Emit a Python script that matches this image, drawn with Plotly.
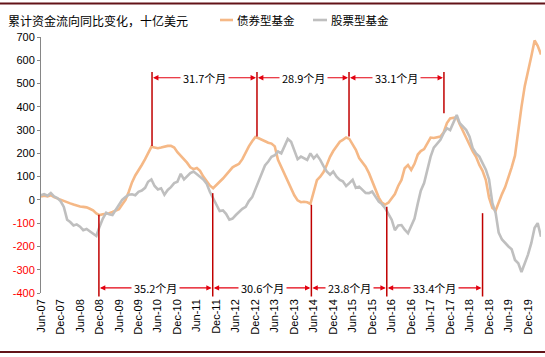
import pandas as pd
import plotly.graph_objects as go

START = "2007-06-01"
X_END = "2020-04-01"
Y_MIN, Y_MAX = -400, 700

# 债券型基金 (monthly reading, 十亿美元)
bond = [15, 18, 15, 20, 12, 6, 0, -6, -10, -15, -20, -25, -28, -30, -32, -38, -45, -58, -65, -62,
        -60, -57, -52, -47, -40, -20, 0, 35, 75, 105, 125, 150, 175, 200, 228, 225, 222, 225, 230, 232,
        232, 225, 205, 190, 175, 160, 140, 132, 137, 125, 100, 80, 62, 50, 62, 78, 92, 108, 128, 140,
        148, 155, 175, 205, 230, 252, 270, 265, 258, 252, 246, 242, 230, 172, 140, 115, 82, 50, 20, -2,
        -10, -8, -10, -17, 40, 85, 100, 120, 150, 185, 210, 232, 250, 258, 268, 262, 240, 215, 180, 160,
        143, 115, 80, 45, 10, -12, -20, -12, 5, 25, 60, 86, 136, 150, 129, 155, 195, 210, 218, 240,
        268, 266, 268, 272, 290, 330, 350, 353, 355, 325, 295, 265, 235, 208, 185, 150, 125, 85, 10, -35,
        -45, -10, 25, 55, 95, 140, 190, 300, 400, 490, 560, 616, 685, 662, 625]

# 股票型基金
equity = [20, 25, 18, 30, 15, 8, -5, -30, -85, -95, -110, -105, -115, -130, -125, -135, -142, -155, -115, -80,
          -55, -62, -65, -45, -22, 0, 12, 22, 24, 20, 35, 40, 52, 78, 88, 60, 45, 50, 22, 43,
          55, 72, 78, 112, 88, 100, 115, 122, 112, 100, 88, 70, 35, 5, -25, -48, -45, -60, -85, -80,
          -65, -52, -38, -30, -5, 12, 45, 85, 120, 148, 165, 185, 192, 208, 200, 232, 262, 250, 215, 175,
          186, 180, 172, 200, 178, 193, 172, 145, 122, 108, 122, 100, 86, 80, 60, 72, 86, 52, 57, 43,
          30, 29, 36, 14, -7, -18, -35, -60, -85, -130, -110, -108, -128, -143, -112, -80, -15, 40, 72, 129,
          186, 225, 244, 258, 287, 308, 300, 330, 365, 330, 315, 300, 272, 222, 200, 186, 158, 130, 88, -14,
          -57, -140, -170, -186, -200, -212, -258, -272, -310, -272, -235, -186, -120, -100, -158]

series_names = ["债券型基金", "股票型基金"]
series_colors = ["#F5B886", "#BFBFBF"]

# peaks (top) and troughs (bottom) marked with red lines
peak_dates = ["2010-04-07", "2012-12-16", "2015-04-28", "2017-10-04"]
peak_values = [232, 272, 272, 372]
peak_labels = ["31.7个月", "28.9个月", "33.1个月"]

trough_dates = ["2008-11-25", "2011-10-28", "2014-05-10", "2016-04-16", "2018-10-01"]
trough_values = [-64, 29, -21, -29, -57]
trough_labels = ["35.2个月", "30.6个月", "23.8个月", "33.4个月"]

TOP_LINE_END = 550
TOP_ARROW_Y = 525
BOTTOM_ARROW_Y = -378

y_ticks = list(range(Y_MIN, Y_MAX + 1, 100))
y_ticktext = [f"<span style='color:#FF0000'>{v}</span>" if v < 0 else str(v) for v in y_ticks]

dates = pd.date_range(START, periods=len(bond), freq="MS")

# layout geometry (pixels)
W, H = 545, 357
ML, MR, MT, MB = 41, 4, 37, 64
PW, PH = W - ML - MR, H - MT - MB


def px_x(px):
    return (px - ML) / PW


def px_y(py):
    return (H - MB - py) / PH


def val_paper(v):
    return (v - Y_MIN) / (Y_MAX - Y_MIN)


FONT = "Liberation Sans, Arial, Noto Sans CJK SC"
CJK = "Noto Sans CJK SC, Liberation Sans"
RED_LINE = "#C00000"
RED_ARROW = "#E3000F"

fig = go.Figure()
for vals, name, col in zip([bond, equity], series_names, series_colors):
    fig.add_trace(go.Scatter(x=dates, y=vals, mode="lines", name=name,
                             line=dict(color=col, width=2.6), showlegend=False))

shapes = []
annotations = []

# vertical red lines
for d, v in zip(peak_dates, peak_values):
    shapes.append(dict(type="line", xref="x", yref="y", x0=d, x1=d, y0=v, y1=TOP_LINE_END,
                       line=dict(color=RED_LINE, width=1.5)))
for d, v in zip(trough_dates, trough_values):
    shapes.append(dict(type="line", xref="x", yref="paper", x0=d, x1=d, y0=val_paper(v), y1=px_y(296.5),
                       line=dict(color=RED_LINE, width=1.5)))


def add_interval(d0, d1, yv, label):
    t0, t1 = pd.Timestamp(d0), pd.Timestamp(d1)
    mid = t0 + (t1 - t0) / 2
    for head in (t0, t1):
        annotations.append(dict(x=head, y=yv, xref="x", yref="y", ax=mid, ay=yv, axref="x", ayref="y",
                                text="", showarrow=True, arrowhead=2, arrowsize=0.9, arrowwidth=1.2,
                                arrowcolor=RED_ARROW, standoff=1))
    annotations.append(dict(x=mid, y=yv, xref="x", yref="y", text=label, showarrow=False,
                            bgcolor="white", borderpad=2, font=dict(family=CJK, size=11, color="#000000")))


for i, lab in enumerate(peak_labels):
    add_interval(peak_dates[i], peak_dates[i + 1], TOP_ARROW_Y, lab)
for i, lab in enumerate(trough_labels):
    add_interval(trough_dates[i], trough_dates[i + 1], BOTTOM_ARROW_Y, lab)

# title
annotations.append(dict(x=px_x(6), y=px_y(20), xref="paper", yref="paper", xanchor="left", yanchor="middle",
                        text="累计资金流向同比变化，十亿美元", showarrow=False,
                        font=dict(family=CJK, size=12, color="#000000")))
# custom legend
leg = [(220, 233, 235), (313, 327, 329)]
for (x0, x1, xt), name, col in zip(leg, series_names, series_colors):
    shapes.append(dict(type="line", xref="paper", yref="paper", x0=px_x(x0), x1=px_x(x1),
                       y0=px_y(20), y1=px_y(20), line=dict(color=col, width=2.6)))
    annotations.append(dict(x=px_x(xt), y=px_y(20), xref="paper", yref="paper", xanchor="left",
                            yanchor="middle", text=name, showarrow=False,
                            font=dict(family=CJK, size=11.5, color="#000000")))

# frame rules (dark red) top and bottom
for py in (3.5, 352):
    shapes.append(dict(type="line", xref="paper", yref="paper", x0=px_x(0), x1=px_x(W),
                       y0=px_y(py), y1=px_y(py), line=dict(color="#631318", width=2)))

fig.update_layout(
    width=W, height=H,
    margin=dict(l=ML, r=MR, t=MT, b=MB),
    paper_bgcolor="white", plot_bgcolor="white",
    showlegend=False,
    shapes=shapes, annotations=annotations,
    xaxis=dict(type="date", range=[START, X_END], tickmode="linear", tick0=START, dtick="M6",
               tickformat="%b-%y", tickangle=-90, showgrid=False, showline=False, ticks="",
               zeroline=False, ticklabelstandoff=3,
               tickfont=dict(family=FONT, size=11, color="#000000")),
    xaxis2=dict(type="date", range=[START, X_END], overlaying="x", anchor="free",
                position=val_paper(0), side="bottom", tickmode="linear", tick0=START, dtick="M6",
                ticks="inside", ticklen=4, tickcolor="#868686", showline=True, linecolor="#868686",
                linewidth=1, showticklabels=False, showgrid=False, zeroline=False, layer="below traces"),
    yaxis=dict(range=[Y_MIN, Y_MAX], tickmode="array", tickvals=y_ticks, ticktext=y_ticktext,
               showgrid=False, zeroline=False, showline=True, linecolor="#868686", linewidth=1,
               ticks="outside", ticklen=3, tickcolor="#868686",
               tickfont=dict(family=FONT, size=11, color="#000000")),
)

fig.write_html("out.html", config={"displayModeBar": False},
               post_script="document.body.style.margin='0';document.body.style.padding='0';")
